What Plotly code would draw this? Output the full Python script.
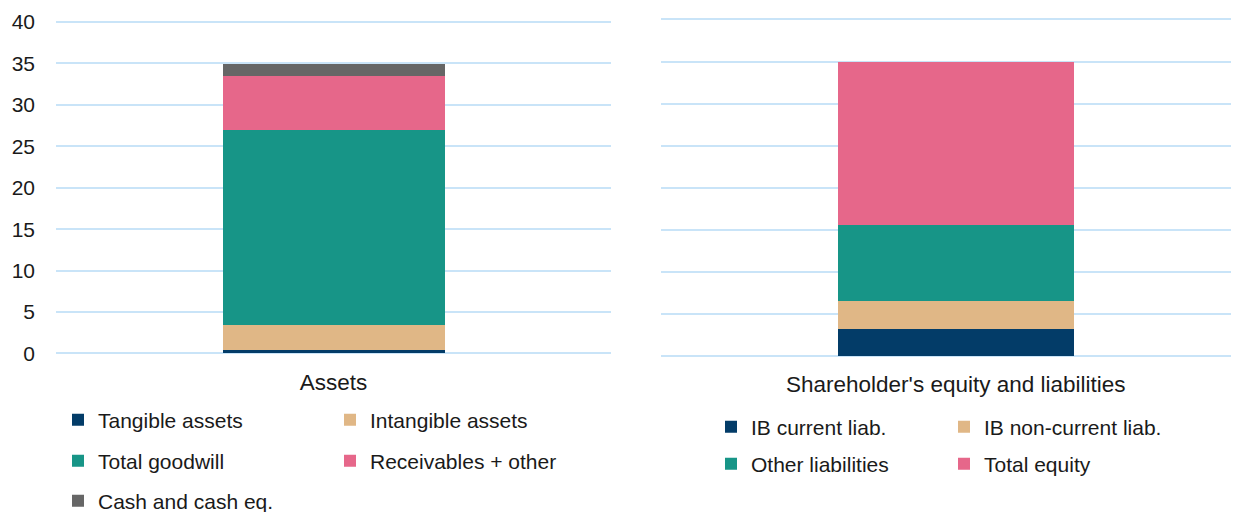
import plotly.graph_objects as go

W, H = 1239, 512
OFF = 8  # page offset of the figure inside the browser page

# ---------------- data ----------------
asset_cat = ["Assets"]
asset_names = ["Tangible assets", "Intangible assets", "Total goodwill",
               "Receivables + other", "Cash and cash eq."]
asset_values = [0.4, 3.05, 23.5, 6.5, 1.45]

liab_cat = ["Shareholder's equity and liabilities"]
liab_names = ["IB current liab.", "IB non-current liab.", "Other liabilities", "Total equity"]
liab_values = [3.2, 3.33, 9.03, 19.4]

y_ticks = [0, 5, 10, 15, 20, 25, 30, 35, 40]

colors_assets = ["#033c68", "#e0b786", "#179587", "#e6678a", "#666666"]
colors_liab = ["#033c68", "#e0b786", "#179587", "#e6678a"]

FONT = "Liberation Sans, Arial, sans-serif"
TXT = "#1a1a1a"
GRID = "#c9e4f8"

Y0, Y1, PAD = 0, 40, 0.25


def px_x(p):
    return (p - OFF) / W


def px_y(p):
    return 1 - (p - OFF) / H


def y_domain(px_zero, px_top):
    scale = (px_zero - px_top) / (Y1 - Y0)
    return [px_y(px_zero + PAD * scale), px_y(px_top - PAD * scale)]


fig = go.Figure()

left_legends = ["legend", "legend", "legend2", "legend2", "legend3"]
for name, val, col, lg in zip(asset_names, asset_values, colors_assets, left_legends):
    fig.add_trace(go.Bar(x=asset_cat, y=[val], name=name, marker_color=col,
                         marker_line_width=0, width=0.4, xaxis="x", yaxis="y",
                         legend=lg))

right_legends = ["legend4", "legend4", "legend5", "legend5"]
for name, val, col, lg in zip(liab_names, liab_values, colors_liab, right_legends):
    fig.add_trace(go.Bar(x=liab_cat, y=[val], name=name, marker_color=col,
                         marker_line_width=0, width=0.408, xaxis="x2", yaxis="y2",
                         legend=lg))

common_y = dict(range=[Y0 - PAD, Y1 + PAD], tickvals=y_ticks, showgrid=True,
                gridcolor=GRID, gridwidth=2, zeroline=False, showline=False,
                ticks="", automargin=False)


def legend_style(x, y, ew):
    return dict(x=x, y=y, orientation="h", entrywidthmode="pixels", entrywidth=ew,
                font=dict(family=FONT, size=21, color=TXT),
                bgcolor="rgba(0,0,0,0)", borderwidth=0,
                xanchor="left", yanchor="middle", traceorder="normal",
                itemclick=False, itemdoubleclick=False)


fig.update_layout(
    template="none",
    width=W, height=H,
    margin=dict(l=0, r=0, t=0, b=0, autoexpand=False),
    paper_bgcolor="white", plot_bgcolor="white",
    barmode="stack",
    font=dict(family=FONT, size=21, color=TXT),
    xaxis=dict(domain=[px_x(56), px_x(611)], range=[-0.5, 0.5], showgrid=False,
               showline=False, zeroline=False, ticks="", automargin=False,
               tickfont=dict(size=22.5), ticklabelstandoff=11),
    yaxis=dict(domain=y_domain(353.5, 22), anchor="x", tickfont=dict(size=21),
               ticklabelstandoff=20, **common_y),
    xaxis2=dict(domain=[px_x(661), px_x(1239)], range=[-0.51, 0.49], showgrid=False,
                showline=False, zeroline=False, ticks="", anchor="y2",
                automargin=False, tickfont=dict(size=22.5), ticklabelstandoff=10),
    yaxis2=dict(domain=y_domain(356, 19.5), anchor="x2", showticklabels=False,
                **common_y),
    legend=legend_style(px_x(58), px_y(420), 227),
    legend2=legend_style(px_x(58), px_y(461), 227),
    legend3=legend_style(px_x(58), px_y(501), 227),
    legend4=legend_style(px_x(711), px_y(427), 188),
    legend5=legend_style(px_x(711), px_y(464), 188),
    showlegend=True,
)

fig.write_html("out.html")
